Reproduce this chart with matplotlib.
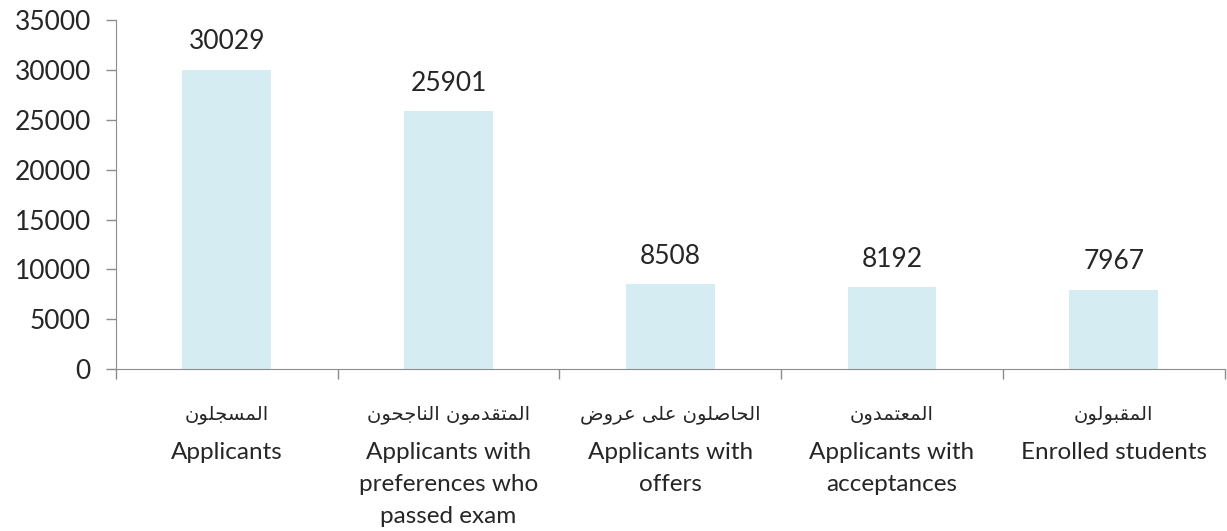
import matplotlib.pyplot as plt

# Arabic presentation forms: (isolated, final, initial, medial)
FORMS = {
    'ا': (0xFE8D, 0xFE8E, None, None),
    'ب': (0xFE8F, 0xFE90, 0xFE91, 0xFE92),
    'ت': (0xFE95, 0xFE96, 0xFE97, 0xFE98),
    'ج': (0xFE9D, 0xFE9E, 0xFE9F, 0xFEA0),
    'ح': (0xFEA1, 0xFEA2, 0xFEA3, 0xFEA4),
    'د': (0xFEA9, 0xFEAA, None, None),
    'ر': (0xFEAD, 0xFEAE, None, None),
    'س': (0xFEB1, 0xFEB2, 0xFEB3, 0xFEB4),
    'ص': (0xFEB9, 0xFEBA, 0xFEBB, 0xFEBC),
    'ض': (0xFEBD, 0xFEBE, 0xFEBF, 0xFEC0),
    'ع': (0xFEC9, 0xFECA, 0xFECB, 0xFECC),
    'ق': (0xFED5, 0xFED6, 0xFED7, 0xFED8),
    'ل': (0xFEDD, 0xFEDE, 0xFEDF, 0xFEE0),
    'م': (0xFEE1, 0xFEE2, 0xFEE3, 0xFEE4),
    'ن': (0xFEE5, 0xFEE6, 0xFEE7, 0xFEE8),
    'و': (0xFEED, 0xFEEE, None, None),
    'ى': (0xFEEF, 0xFEF0, None, None),
}


def shape(s):
    # matplotlib does no Arabic shaping or RTL, so pick joined forms and reverse
    out = []
    for i, c in enumerate(s):
        if c not in FORMS:
            out.append(c)
            continue
        f = FORMS[c]
        prev = s[i - 1] if i > 0 else None
        nxt = s[i + 1] if i + 1 < len(s) else None
        join_prev = prev in FORMS and FORMS[prev][2] is not None
        join_next = f[2] is not None and nxt in FORMS
        if join_prev and join_next:
            g = f[3]
        elif join_prev:
            g = f[1]
        elif join_next:
            g = f[2]
        else:
            g = f[0]
        out.append(chr(g))
    return ''.join(reversed(out))


labels_ar = ['المسجلون', 'المتقدمون الناجحون', 'الحاصلون على عروض', 'المعتمدون', 'المقبولون']
labels_en = ['Applicants', 'Applicants with\npreferences who\npassed exam',
             'Applicants with\noffers', 'Applicants with\nacceptances', 'Enrolled students']
values = [30029, 25901, 8508, 8192, 7967]

txt = '#262626'
grey = '#8c8c8c'
plt.rcParams['font.family'] = ['Lato', 'DejaVu Sans']

fig = plt.figure(figsize=(12.27, 5.31), dpi=100)
ax = fig.add_axes([0.0945, 0.305, 0.9035, 0.657])

x = range(len(values))
ax.bar(x, values, width=0.4, color='#d6ecf3')
for i, v in zip(x, values):
    ax.annotate(str(v), (i, v), xytext=(0, 11), textcoords='offset points',
                ha='center', va='bottom', fontsize=19, color=txt)

ax.set_xlim(-0.5, len(values) - 0.5)
ax.set_ylim(0, 35000)
ax.set_yticks(range(0, 35001, 5000))
ax.set_xticks([i - 0.5 for i in range(len(values) + 1)])
ax.set_xticklabels([])
ax.tick_params(axis='y', labelsize=19, labelcolor=txt, color=grey, length=7, width=1, pad=11)
ax.tick_params(axis='x', color=grey, length=7, width=1)
for side in ['top', 'right']:
    ax.spines[side].set_visible(False)
for side in ['left', 'bottom']:
    ax.spines[side].set_color(grey)

trans = ax.get_xaxis_transform()
for i in x:
    ax.text(i, -0.13, shape(labels_ar[i]), transform=trans, ha='center', va='center',
            fontsize=14, color=txt, family=['DejaVu Sans'])
    ax.text(i, -0.21, labels_en[i], transform=trans, ha='center', va='top',
            fontsize=17.5, color=txt, linespacing=1.65)

fig.savefig('out.png', dpi=100)
